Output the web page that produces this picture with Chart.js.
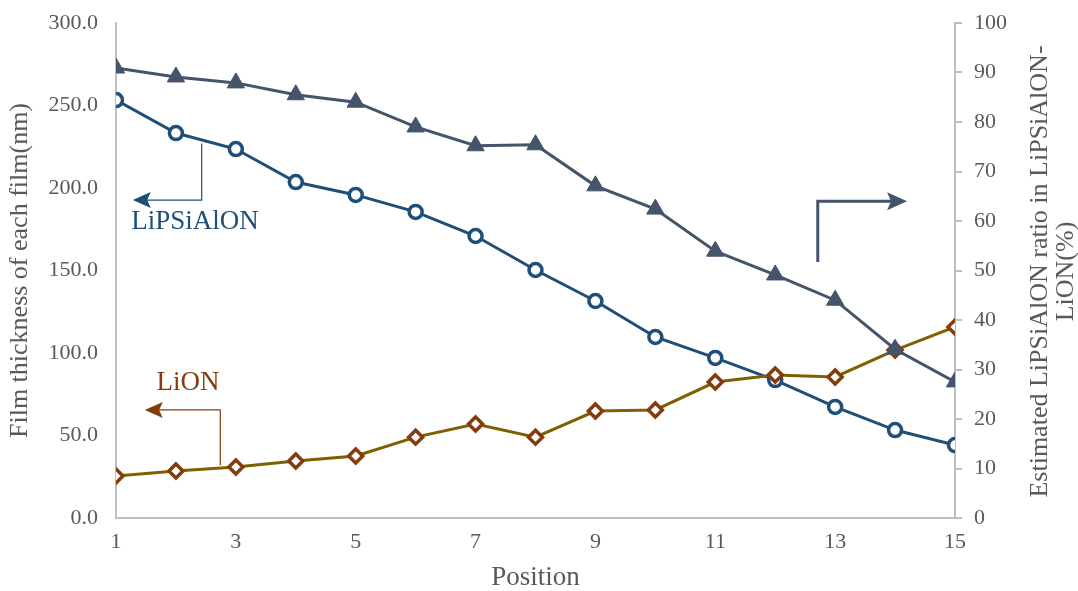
<!DOCTYPE html>
<html>
<head>
<meta charset="utf-8">
<script src="https://cdn.jsdelivr.net/npm/chart.js@4/dist/chart.umd.min.js"></script>
<style>
  html, body { margin: 0; padding: 0; background: #fff; }
  #wrap { width: 1078px; height: 591px; }
</style>
</head>
<body>
<div id="wrap"><canvas id="chart"></canvas></div>
<script>
// data
const positions = [1, 2, 3, 4, 5, 6, 7, 8, 9, 10, 11, 12, 13, 14, 15];
const lipsialonThickness = [253.3, 233.3, 223.6, 203.6, 195.8, 185.5, 170.9, 150.3, 131.5, 109.7, 97.0, 83.6, 67.3, 53.3, 44.2];
const lionThickness = [25.5, 28.5, 30.9, 34.5, 37.6, 49.0, 57.0, 49.0, 64.8, 65.5, 82.4, 86.7, 85.5, 101.8, 115.8];
const lipsialonRatio = [90.9, 89.1, 87.9, 85.5, 84.0, 79.0, 75.2, 75.4, 67.1, 62.4, 53.9, 49.1, 44.0, 34.1, 27.5];

const leftTitle = "Film thickness of each film(nm)";
const rightTitle = ["Estimated LiPSiAlON ratio in LiPSiAlON-", "LiON(%)"];
const xTitle = "Position";

const serif = "'Liberation Serif', 'Times New Roman', serif";
const grey = "#595959";
const axisGrey = "#BFBFBF";
const blue = "#1F4E79";
const slate = "#44546A";
const brown = "#843C0C";
const olive = "#7F6000";

function pts(vals) {
    return vals.map(function (v, i) { return { x: positions[i], y: v }; });
}

// arrows with labels, placed in data units
const callouts = [
    { axis: "y", color: blue, width: 1.2, headLen: 18, headHalf: 8, x0: 2.43, yTop: 227, yBot: 192.7, xEnd: 1.28, fromTop: true,
      text: "LiPSiAlON", tx: 2.32, ty: 179.4 },
    { axis: "y", color: brown, width: 1.2, headLen: 18, headHalf: 8, x0: 2.74, yTop: 65.5, yBot: 32, xEnd: 1.48, fromTop: false,
      text: "LiON", tx: 2.2, ty: 81.8 },
    { axis: "y1", color: slate, width: 3, headLen: 20, headHalf: 9, x0: 12.71, yTop: 64, yBot: 51.7, xEnd: 14.2, fromTop: false,
      text: null }
];

const calloutPlugin = {
    id: "callouts",
    afterDatasetsDraw(chart) {
        const ctx = chart.ctx;
        const xs = chart.scales.x;
        callouts.forEach(function (c) {
            const ys = chart.scales[c.axis];
            const x0 = xs.getPixelForValue(c.x0);
            const xe = xs.getPixelForValue(c.xEnd);
            const yt = ys.getPixelForValue(c.yTop);
            const yb = ys.getPixelForValue(c.yBot);
            // elbow: vertical part then horizontal part at the corner end
            const yCorner = c.fromTop ? yb : yt;
            const yStart = c.fromTop ? yt : yb;
            const dir = xe < x0 ? -1 : 1;
            ctx.save();
            ctx.strokeStyle = c.color;
            ctx.lineWidth = c.width;
            ctx.beginPath();
            ctx.moveTo(x0, yStart);
            ctx.lineTo(x0, yCorner);
            ctx.lineTo(xe - dir * c.headLen * 0.7, yCorner);
            ctx.stroke();
            ctx.fillStyle = c.color;
            ctx.beginPath();
            ctx.moveTo(xe, yCorner);
            ctx.lineTo(xe - dir * c.headLen, yCorner - c.headHalf);
            ctx.lineTo(xe - dir * c.headLen * 0.8, yCorner);
            ctx.lineTo(xe - dir * c.headLen, yCorner + c.headHalf);
            ctx.closePath();
            ctx.fill();
            if (c.text) {
                ctx.font = "27px " + serif;
                ctx.fillStyle = c.color;
                ctx.textAlign = "center";
                ctx.textBaseline = "middle";
                ctx.fillText(c.text, xs.getPixelForValue(c.tx), ys.getPixelForValue(c.ty));
            }
            ctx.restore();
        });
    },
    afterDraw(chart) {
        // right axis title reads bottom-to-top like the left one
        const ctx = chart.ctx;
        const area = chart.chartArea;
        ctx.save();
        ctx.font = "26px " + serif;
        ctx.fillStyle = grey;
        ctx.textAlign = "center";
        ctx.textBaseline = "middle";
        ctx.translate(1053, (area.top + area.bottom) / 2 + 1);
        ctx.rotate(-Math.PI / 2);
        ctx.fillText(rightTitle[0], 0, -13);
        ctx.fillText(rightTitle[1], 0, 13);
        ctx.restore();
    }
};

function noVertPad(s) {
    s.paddingTop = 0;
    s.paddingBottom = 0;
}

const ctx = document.getElementById("chart").getContext("2d");
const chart = new Chart(ctx, {
    type: "line",
    data: {
        datasets: [{
            label: "LiPSiAlON ratio",
            data: pts(lipsialonRatio),
            yAxisID: "y1",
            borderColor: slate,
            backgroundColor: slate,
            borderWidth: 3,
            pointStyle: "triangle",
            pointRadius: 10,
            pointBorderWidth: 1,
            pointBackgroundColor: slate,
            pointBorderColor: slate
        }, {
            label: "LiON",
            data: pts(lionThickness),
            yAxisID: "y",
            borderColor: olive,
            backgroundColor: olive,
            borderWidth: 3,
            pointStyle: "rectRot",
            pointRadius: 7,
            pointBorderWidth: 3.5,
            pointBackgroundColor: "#fff",
            pointBorderColor: brown
        }, {
            label: "LiPSiAlON",
            data: pts(lipsialonThickness),
            yAxisID: "y",
            borderColor: blue,
            backgroundColor: blue,
            borderWidth: 3,
            pointStyle: "circle",
            pointRadius: 6.5,
            pointBorderWidth: 3.5,
            pointBackgroundColor: "#fff",
            pointBorderColor: blue
        }]
    },
    options: {
        responsive: true,
        maintainAspectRatio: false,
        animation: false,
        layout: { padding: { top: 23, left: 0, right: 0, bottom: 0 } },
        plugins: {
            legend: { display: false },
            tooltip: { enabled: false }
        },
        scales: {
            x: {
                type: "linear",
                min: 1,
                max: 15,
                afterFit: function (s) { s.height = 73; s.paddingLeft = 0; s.paddingRight = 0; },
                ticks: { stepSize: 2, color: grey, font: { family: serif, size: 22 }, padding: 11 },
                grid: { display: false, drawTicks: false },
                border: { display: true, color: axisGrey, width: 2 },
                title: { display: true, text: xTitle, color: grey, font: { family: serif, size: 27, lineHeight: 1 }, padding: 0 }
            },
            y: {
                position: "left",
                min: 0,
                max: 300,
                afterFit: function (s) { s.width = 116; noVertPad(s); },
                ticks: { stepSize: 50, color: grey, font: { family: serif, size: 22 }, padding: 18,
                         callback: function (v) { return v.toFixed(1); } },
                grid: { display: false, drawTicks: false },
                border: { display: true, color: axisGrey, width: 2 },
                title: { display: true, text: leftTitle, color: grey, font: { family: serif, size: 26, lineHeight: 1.2 }, padding: { top: 5, bottom: 0 } }
            },
            y1: {
                position: "right",
                min: 0,
                max: 100,
                afterFit: function (s) { s.width = 123; noVertPad(s); },
                ticks: { stepSize: 10, color: grey, font: { family: serif, size: 22 }, padding: 12 },
                grid: { display: true, drawOnChartArea: false, drawTicks: true, tickLength: 7, color: axisGrey, lineWidth: 2 },
                border: { display: true, color: axisGrey, width: 2 }
            }
        }
    },
    plugins: [calloutPlugin]
});
</script>
</body>
</html>
